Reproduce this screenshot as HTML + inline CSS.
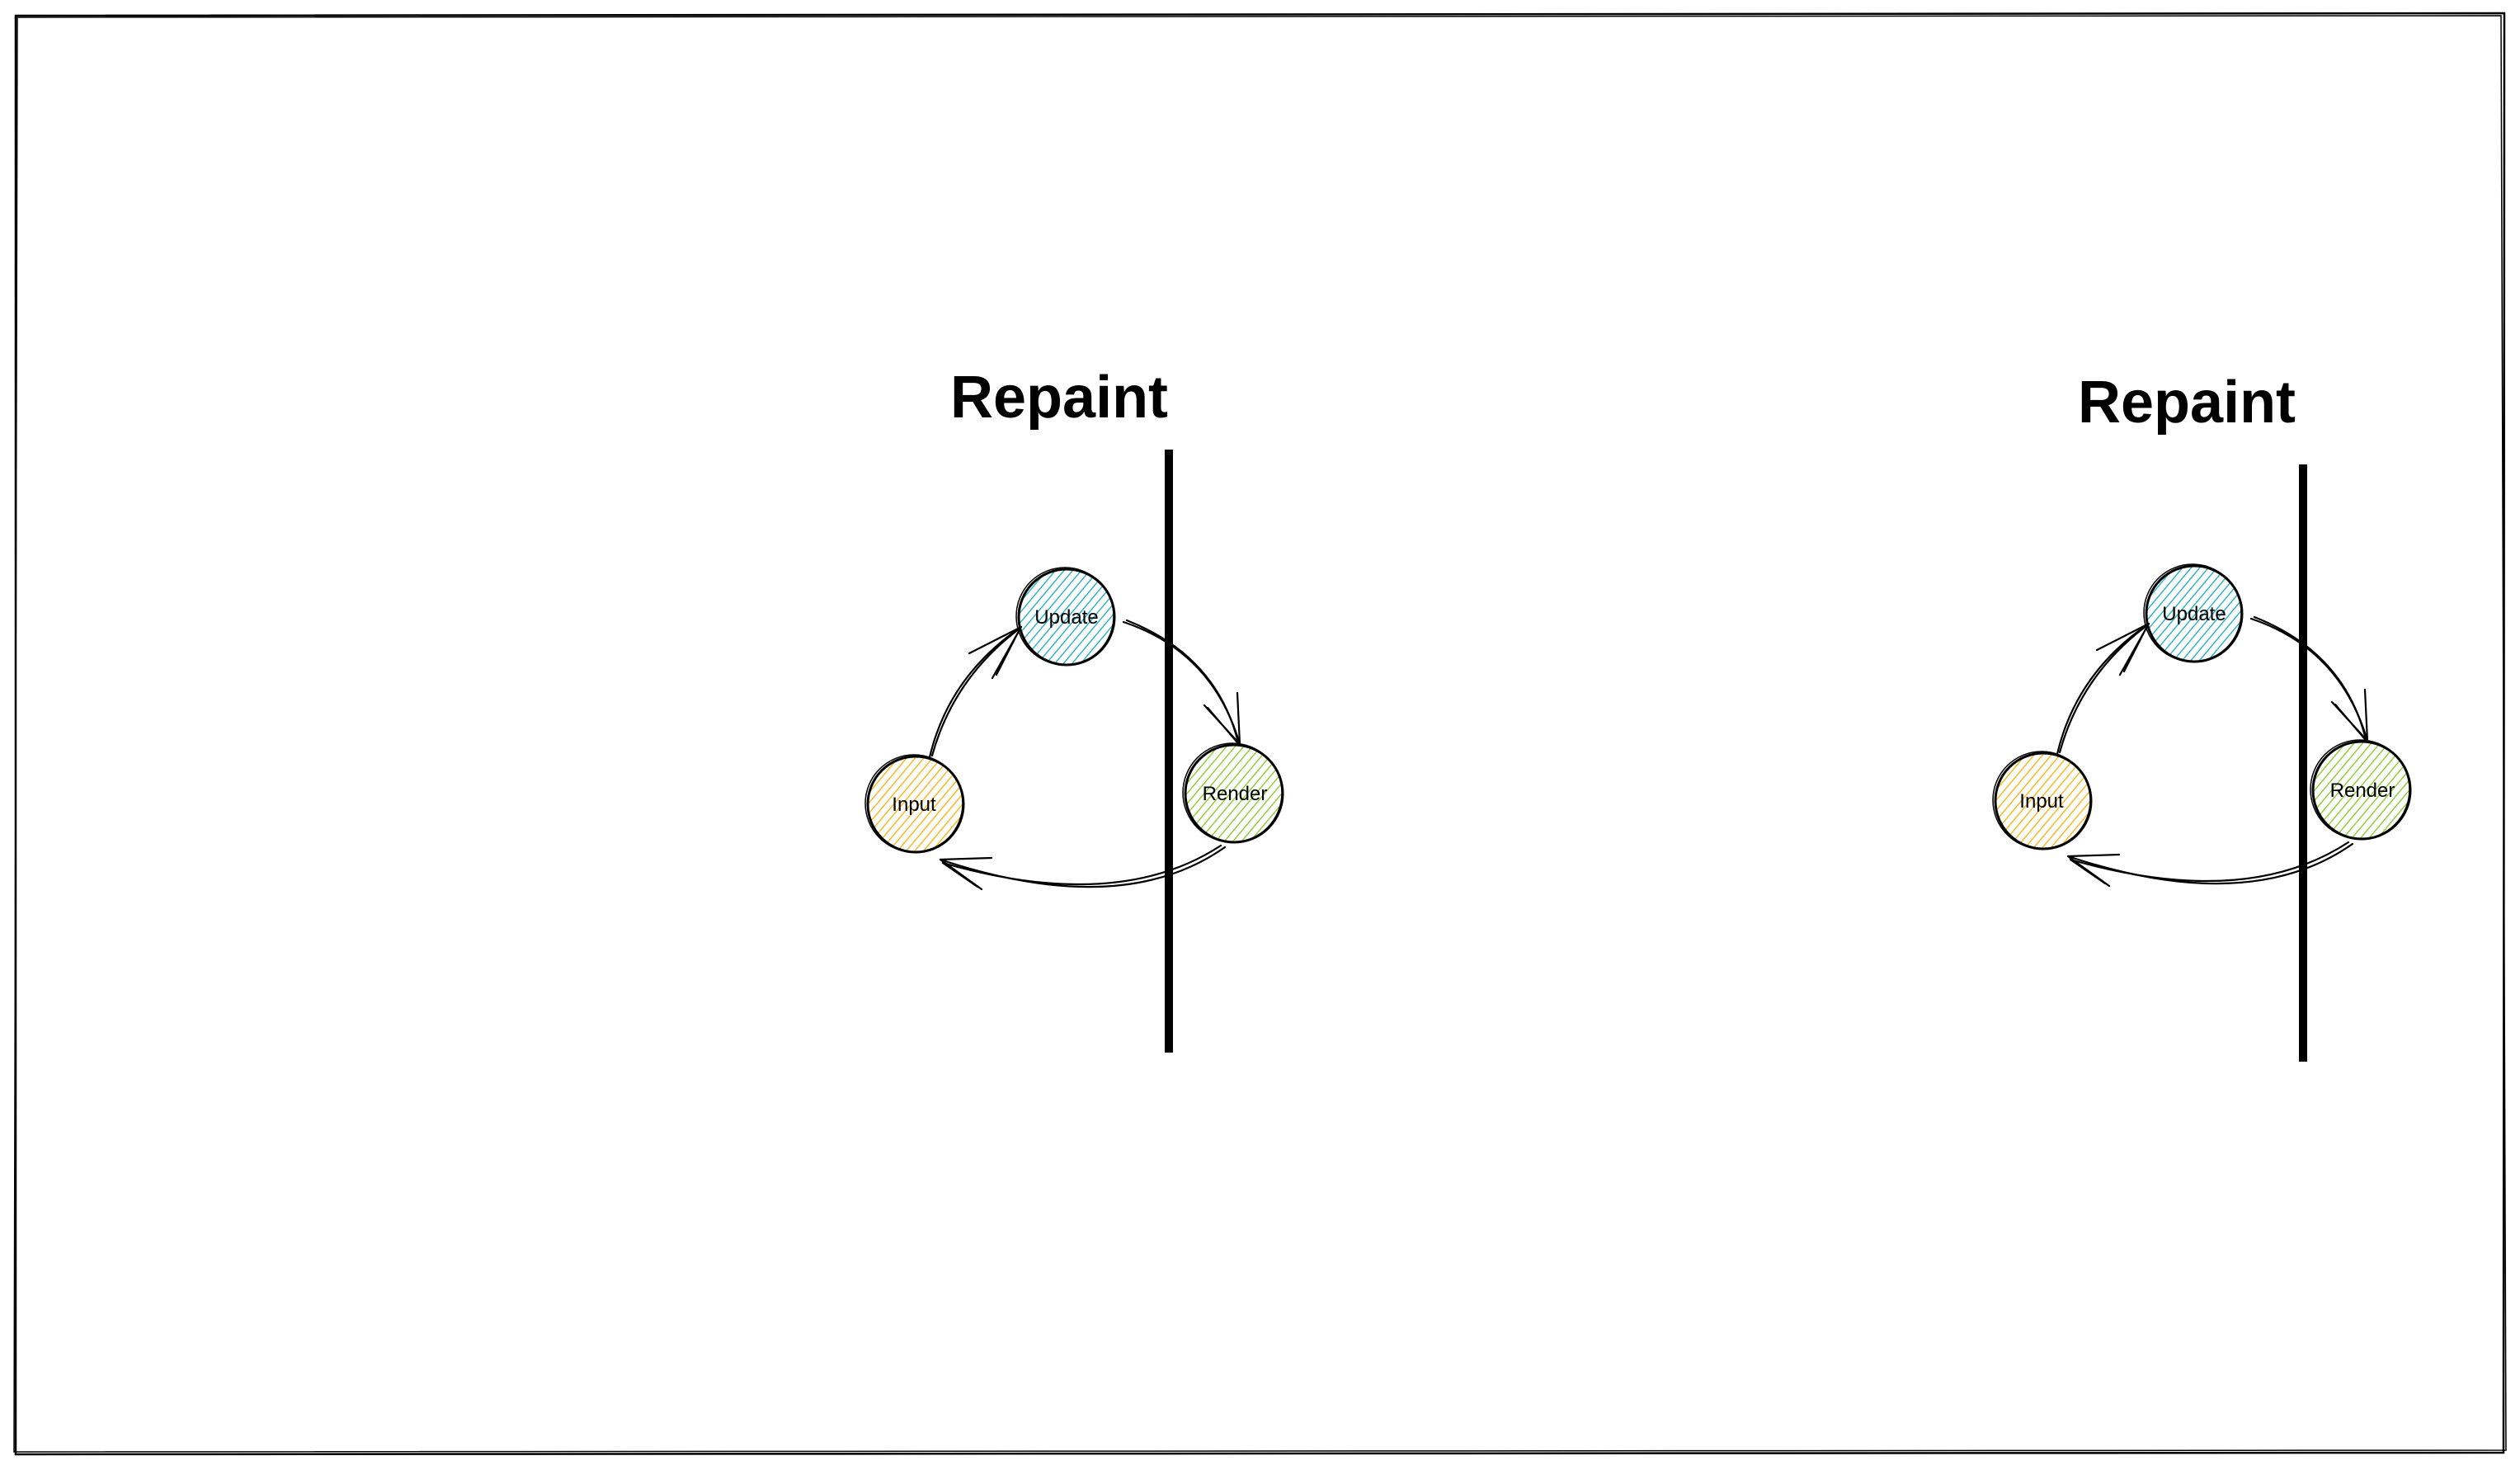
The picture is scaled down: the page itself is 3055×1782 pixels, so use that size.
<!DOCTYPE html>
<html><head><meta charset="utf-8"><style>
html,body{margin:0;padding:0;background:#fff;width:3055px;height:1782px;overflow:hidden}
svg{display:block}
text{font-family:"Liberation Sans","DejaVu Sans",sans-serif}
</style></head><body>
<svg width="3055" height="1782" viewBox="0 0 3055 1782" xmlns="http://www.w3.org/2000/svg">
<defs>
<pattern id="hb" width="8" height="8" patternUnits="userSpaceOnUse" patternTransform="rotate(40)"><line x1="0" y1="0" x2="0" y2="8" stroke="#15aabf" stroke-width="2.6"/></pattern>
<pattern id="ho" width="8" height="8" patternUnits="userSpaceOnUse" patternTransform="rotate(40)"><line x1="0" y1="0" x2="0" y2="8" stroke="#fab005" stroke-width="2.6"/></pattern>
<pattern id="hg" width="8" height="8" patternUnits="userSpaceOnUse" patternTransform="rotate(40)"><line x1="0" y1="0" x2="0" y2="8" stroke="#82c91e" stroke-width="2.6"/></pattern>
<g id="grp">
  <circle cx="1293" cy="748" r="57" fill="url(#hb)"/>
  <circle cx="1293" cy="748" r="58" fill="none" stroke="#000" stroke-width="3"/>
  <circle cx="1291" cy="747" r="59" fill="none" stroke="#000" stroke-width="1.5"/>
  <circle cx="1110" cy="975" r="57" fill="url(#ho)"/>
  <circle cx="1110" cy="975" r="58" fill="none" stroke="#000" stroke-width="3"/>
  <circle cx="1108" cy="974" r="59" fill="none" stroke="#000" stroke-width="1.5"/>
  <circle cx="1496" cy="962" r="58" fill="url(#hg)"/>
  <circle cx="1496" cy="962" r="59" fill="none" stroke="#000" stroke-width="3"/>
  <circle cx="1494" cy="961" r="60" fill="none" stroke="#000" stroke-width="1.5"/>
  <text x="1293" y="756" font-size="24" text-anchor="middle">Update</text>
  <text x="1108" y="983" font-size="24" text-anchor="middle">Input</text>
  <text x="1497" y="970" font-size="24" text-anchor="middle">Render</text>
  <g fill="none" stroke="#000" stroke-width="2.2" stroke-linecap="round">
    <path d="M1127 918 Q1150 820 1238 760"/>
    <path d="M1130 916 Q1156 822 1236 762"/>
    <path d="M1238 760 L1175 792 M1238 760 L1203 822 M1236 763 L1208 818"/>
    <path d="M1362 754 Q1470 790 1503 902"/>
    <path d="M1366 752 Q1475 795 1501 900"/>
    <path d="M1503 902 L1460 855 M1503 902 L1500 840 M1500 900 L1464 858"/>
    <path d="M1485 1027 Q1360 1115 1140 1042"/>
    <path d="M1480 1025 Q1355 1107 1143 1046"/>
    <path d="M1140 1042 L1202 1040 M1140 1042 L1190 1078 M1143 1046 L1185 1075"/>
  </g>
</g>
</defs>
<g fill="none" stroke="#000" stroke-width="2.5">
  <path d="M19 19 L3036 16 L3035 1761 L19 1763 Z"/>
  <path d="M21 21 L3032 19 L3038 1758 L17 1760 Z" stroke-width="1.5"/>
</g>
<text x="1152" y="506" font-size="72" font-weight="bold">Repaint</text>
<rect x="1412" y="545" width="10" height="731" fill="#000"/>
<use href="#grp"/>
<text x="2519" y="512" font-size="72" font-weight="bold">Repaint</text>
<rect x="2787" y="563" width="10" height="724" fill="#000"/>
<use href="#grp" transform="translate(1367,-4)"/>
</svg>
</body></html>
